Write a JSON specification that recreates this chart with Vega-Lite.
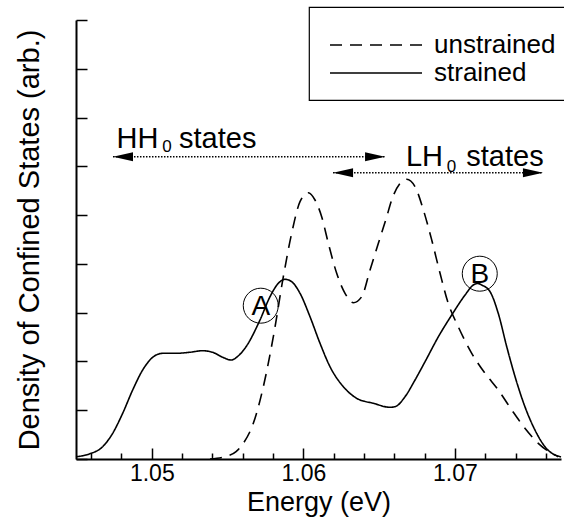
{
  "$schema": "https://vega.github.io/schema/vega-lite/v6.json",
  "width": 485,
  "height": 439,
  "autosize": {"type": "none"},
  "padding": {"left": 76, "top": 20, "right": 3, "bottom": 59},
  "background": "white",
  "config": {
    "view": {"stroke": null},
    "font": "Liberation Sans",
    "axis": {"grid": false, "domainColor": "black", "domainWidth": 2, "tickColor": "black", "tickWidth": 1.5, "labelColor": "black", "titleColor": "black", "titleFontWeight": "normal"},
    "legend": {"strokeWidth": 1.2}
  },
  "resolve": {"axis": {"x": "independent"}},
  "datasets": {
    "curves": [
      {"energy": 1.0450, "dos": 0.047, "series": "strained"},
      {"energy": 1.04588, "dos": 0.103, "series": "strained"},
      {"energy": 1.04676, "dos": 0.252, "series": "strained"},
      {"energy": 1.04742, "dos": 0.527, "series": "strained"},
      {"energy": 1.04808, "dos": 0.937, "series": "strained"},
      {"energy": 1.04874, "dos": 1.415, "series": "strained"},
      {"energy": 1.04940, "dos": 1.825, "series": "strained"},
      {"energy": 1.05006, "dos": 2.085, "series": "strained"},
      {"energy": 1.05072, "dos": 2.167, "series": "strained"},
      {"energy": 1.05160, "dos": 2.167, "series": "strained"},
      {"energy": 1.05248, "dos": 2.187, "series": "strained"},
      {"energy": 1.05336, "dos": 2.220, "series": "strained"},
      {"energy": 1.05402, "dos": 2.187, "series": "strained"},
      {"energy": 1.05468, "dos": 2.085, "series": "strained"},
      {"energy": 1.05523, "dos": 2.030, "series": "strained"},
      {"energy": 1.05577, "dos": 2.132, "series": "strained"},
      {"energy": 1.05622, "dos": 2.302, "series": "strained"},
      {"energy": 1.05714, "dos": 2.850, "series": "strained"},
      {"energy": 1.05780, "dos": 3.327, "series": "strained"},
      {"energy": 1.05835, "dos": 3.602, "series": "strained"},
      {"energy": 1.05879, "dos": 3.684, "series": "strained"},
      {"energy": 1.05923, "dos": 3.635, "series": "strained"},
      {"energy": 1.05978, "dos": 3.397, "series": "strained"},
      {"energy": 1.06044, "dos": 2.917, "series": "strained"},
      {"energy": 1.06110, "dos": 2.372, "series": "strained"},
      {"energy": 1.06176, "dos": 1.892, "series": "strained"},
      {"energy": 1.06264, "dos": 1.482, "series": "strained"},
      {"energy": 1.06352, "dos": 1.244, "series": "strained"},
      {"energy": 1.06462, "dos": 1.142, "series": "strained"},
      {"energy": 1.06572, "dos": 1.060, "series": "strained"},
      {"energy": 1.06605, "dos": 1.072, "series": "strained"},
      {"energy": 1.06671, "dos": 1.277, "series": "strained"},
      {"energy": 1.06737, "dos": 1.620, "series": "strained"},
      {"energy": 1.06803, "dos": 1.995, "series": "strained"},
      {"energy": 1.06891, "dos": 2.507, "series": "strained"},
      {"energy": 1.06979, "dos": 2.952, "series": "strained"},
      {"energy": 1.07067, "dos": 3.362, "series": "strained"},
      {"energy": 1.07121, "dos": 3.567, "series": "strained"},
      {"energy": 1.07150, "dos": 3.600, "series": "strained"},
      {"energy": 1.07177, "dos": 3.567, "series": "strained"},
      {"energy": 1.07232, "dos": 3.430, "series": "strained"},
      {"energy": 1.07286, "dos": 2.987, "series": "strained"},
      {"energy": 1.07342, "dos": 2.302, "series": "strained"},
      {"energy": 1.07397, "dos": 1.687, "series": "strained"},
      {"energy": 1.07462, "dos": 1.072, "series": "strained"},
      {"energy": 1.07528, "dos": 0.595, "series": "strained"},
      {"energy": 1.07594, "dos": 0.252, "series": "strained"},
      {"energy": 1.07682, "dos": 0.047, "series": "strained"},
      {"energy": 1.05384, "dos": 0.000, "series": "unstrained"},
      {"energy": 1.05468, "dos": 0.035, "series": "unstrained"},
      {"energy": 1.05556, "dos": 0.150, "series": "unstrained"},
      {"energy": 1.05604, "dos": 0.322, "series": "unstrained"},
      {"energy": 1.05670, "dos": 0.732, "series": "unstrained"},
      {"energy": 1.05736, "dos": 1.482, "series": "unstrained"},
      {"energy": 1.05802, "dos": 2.507, "series": "unstrained"},
      {"energy": 1.05868, "dos": 3.737, "series": "unstrained"},
      {"energy": 1.05923, "dos": 4.627, "series": "unstrained"},
      {"energy": 1.05978, "dos": 5.275, "series": "unstrained"},
      {"energy": 1.06033, "dos": 5.459, "series": "unstrained"},
      {"energy": 1.06077, "dos": 5.310, "series": "unstrained"},
      {"energy": 1.06121, "dos": 4.967, "series": "unstrained"},
      {"energy": 1.06165, "dos": 4.422, "series": "unstrained"},
      {"energy": 1.06220, "dos": 3.807, "series": "unstrained"},
      {"energy": 1.06275, "dos": 3.397, "series": "unstrained"},
      {"energy": 1.06330, "dos": 3.204, "series": "unstrained"},
      {"energy": 1.06385, "dos": 3.327, "series": "unstrained"},
      {"energy": 1.06440, "dos": 3.875, "series": "unstrained"},
      {"energy": 1.06495, "dos": 4.422, "series": "unstrained"},
      {"energy": 1.06550, "dos": 4.967, "series": "unstrained"},
      {"energy": 1.06583, "dos": 5.310, "series": "unstrained"},
      {"energy": 1.06638, "dos": 5.652, "series": "unstrained"},
      {"energy": 1.06682, "dos": 5.734, "series": "unstrained"},
      {"energy": 1.06737, "dos": 5.582, "series": "unstrained"},
      {"energy": 1.06792, "dos": 5.105, "series": "unstrained"},
      {"energy": 1.06847, "dos": 4.490, "series": "unstrained"},
      {"energy": 1.06902, "dos": 3.807, "series": "unstrained"},
      {"energy": 1.06956, "dos": 3.192, "series": "unstrained"},
      {"energy": 1.07022, "dos": 2.712, "series": "unstrained"},
      {"energy": 1.07111, "dos": 2.167, "series": "unstrained"},
      {"energy": 1.07199, "dos": 1.757, "series": "unstrained"},
      {"energy": 1.07286, "dos": 1.415, "series": "unstrained"},
      {"energy": 1.07375, "dos": 1.005, "series": "unstrained"},
      {"energy": 1.07462, "dos": 0.629, "series": "unstrained"},
      {"energy": 1.07550, "dos": 0.322, "series": "unstrained"},
      {"energy": 1.07639, "dos": 0.117, "series": "unstrained"},
      {"energy": 1.07700, "dos": 0.040, "series": "unstrained"}
    ],
    "arrows": [
      {"from": 1.04744, "to": 1.06539, "level": 6.197},
      {"from": 1.06196, "to": 1.07581, "level": 5.870}
    ],
    "labels": [
      {"x": 1.04768, "y": 6.376, "text": "HH"},
      {"x": 1.05180, "y": 6.376, "text": "states"},
      {"x": 1.06677, "y": 5.997, "text": "LH"},
      {"x": 1.07075, "y": 5.997, "text": "states"}
    ],
    "subs": [
      {"x": 1.05069, "y": 6.294, "text": "0"},
      {"x": 1.06947, "y": 5.894, "text": "0"}
    ],
    "points": [
      {"x": 1.05719, "y": 3.143, "letter": "A"},
      {"x": 1.07164, "y": 3.799, "letter": "B"}
    ]
  },
  "layer": [
    {
      "data": {"name": "curves"},
      "mark": {"type": "line", "color": "black", "strokeWidth": 1.6, "interpolate": "monotone"},
      "encoding": {
        "x": {
          "field": "energy", "type": "quantitative",
          "scale": {"domain": [1.045, 1.077], "nice": false, "zero": false},
          "axis": {
            "orient": "bottom",
            "values": [1.05, 1.06, 1.07],
            "format": ".2f",
            "tickSize": -11,
            "labelFontSize": 23,
            "labelBaseline": "alphabetic",
            "labelPadding": 32,
            "labelFlush": false,
            "labelOverlap": false,
            "title": "Energy (eV)",
            "titleFontSize": 27,
            "titleX": 242.5,
            "titleY": 51,
            "titleAlign": "center",
            "titleBaseline": "alphabetic"
          }
        },
        "y": {
          "field": "dos", "type": "quantitative",
          "scale": {"domain": [0, 9], "nice": false},
          "axis": {
            "orient": "left",
            "values": [0, 1, 2, 3, 4, 5, 6, 7, 8, 9],
            "tickSize": -11,
            "labels": false,
            "title": "Density of Confined States (arb.)",
            "titleFontSize": 29,
            "titleAngle": 270,
            "titleX": -38,
            "titleY": 219.5,
            "titleAlign": "center",
            "titleBaseline": "alphabetic"
          }
        },
        "strokeDash": {
          "field": "series", "type": "nominal",
          "scale": {"domain": ["unstrained", "strained"], "range": [[12, 8], [1, 0]]},
          "legend": {
            "title": " ",
            "titleFontSize": 8,
            "titlePadding": 3,
            "orient": "none",
            "legendX": 233,
            "legendY": -13,
            "strokeColor": "black",
            "padding": 14,
            "symbolType": "M-9.2,0L9.2,0",
            "symbolSize": 100,
            "symbolStrokeWidth": 1.5,
            "symbolStrokeColor": "black",
            "symbolOffset": 40,
            "labelFontSize": 26,
            "labelColor": "black",
            "labelOffset": 45,
            "rowPadding": 2
          }
        }
      }
    },
    {
      "data": {"name": "arrows"},
      "mark": {"type": "rule", "color": "black", "strokeWidth": 1.5, "strokeDash": [1.5, 1.5]},
      "encoding": {
        "x": {
          "field": "from", "type": "quantitative",
          "axis": {
            "orient": "bottom",
            "values": [1.046, 1.048, 1.052, 1.054, 1.056, 1.058, 1.062, 1.064, 1.066, 1.068, 1.072, 1.074, 1.076],
            "tickSize": -6,
            "labels": false,
            "domain": false,
            "title": null
          }
        },
        "x2": {"field": "to"},
        "y": {"field": "level", "type": "quantitative"}
      }
    },
    {
      "data": {"name": "arrows"},
      "mark": {"type": "point", "shape": "M0,0L2,-0.45L2,0.45Z", "filled": true, "color": "black", "opacity": 1, "size": 400},
      "encoding": {
        "x": {"field": "from", "type": "quantitative", "axis": null},
        "y": {"field": "level", "type": "quantitative"}
      }
    },
    {
      "data": {"name": "arrows"},
      "mark": {"type": "point", "shape": "M0,0L-2,-0.45L-2,0.45Z", "filled": true, "color": "black", "opacity": 1, "size": 400},
      "encoding": {
        "x": {"field": "to", "type": "quantitative", "axis": null},
        "y": {"field": "level", "type": "quantitative"}
      }
    },
    {
      "data": {"name": "labels"},
      "mark": {"type": "text", "align": "left", "baseline": "alphabetic", "fontSize": 29, "color": "black"},
      "encoding": {
        "x": {"field": "x", "type": "quantitative", "axis": null},
        "y": {"field": "y", "type": "quantitative"},
        "text": {"field": "text"}
      }
    },
    {
      "data": {"name": "subs"},
      "mark": {"type": "text", "align": "left", "baseline": "alphabetic", "fontSize": 17, "color": "black"},
      "encoding": {
        "x": {"field": "x", "type": "quantitative", "axis": null},
        "y": {"field": "y", "type": "quantitative"},
        "text": {"field": "text"}
      }
    },
    {
      "data": {"name": "points"},
      "mark": {"type": "point", "shape": "circle", "filled": false, "stroke": "black", "strokeWidth": 1, "opacity": 1, "size": 1225},
      "encoding": {
        "x": {"field": "x", "type": "quantitative", "axis": null},
        "y": {"field": "y", "type": "quantitative"}
      }
    },
    {
      "data": {"name": "points"},
      "mark": {"type": "text", "align": "center", "baseline": "middle", "fontSize": 28, "color": "black", "dy": 1},
      "encoding": {
        "x": {"field": "x", "type": "quantitative", "axis": null},
        "y": {"field": "y", "type": "quantitative"},
        "text": {"field": "letter"}
      }
    }
  ]
}
